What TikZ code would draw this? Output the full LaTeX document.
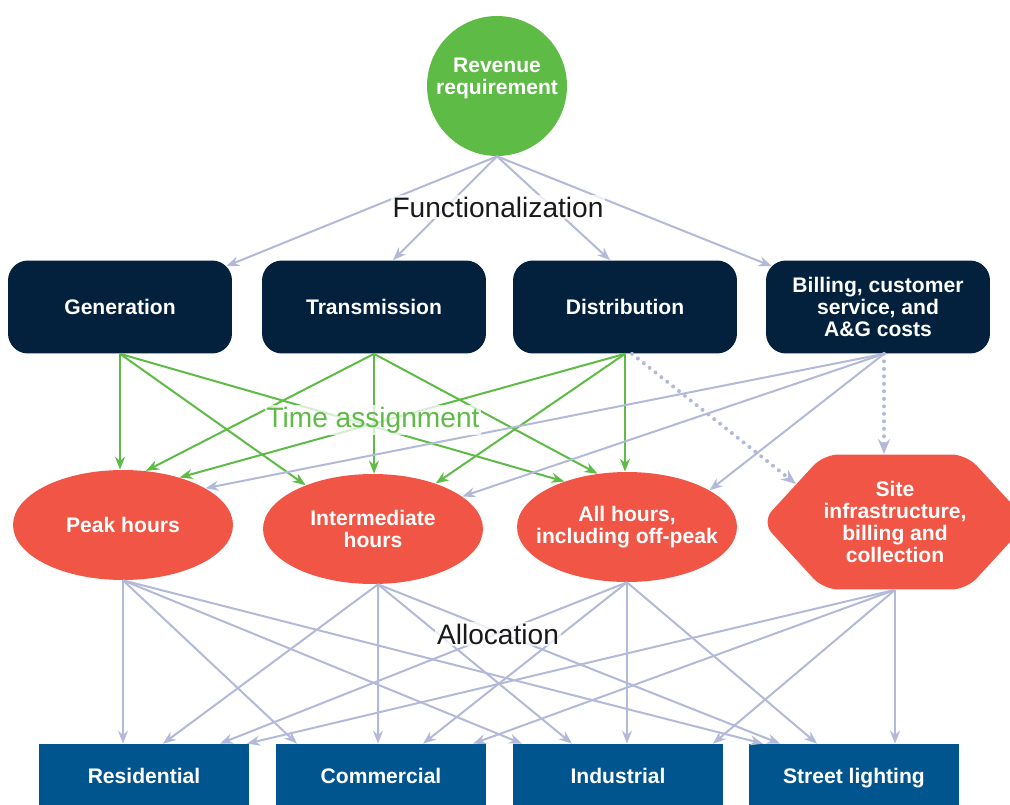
\documentclass[tikz,border=0pt]{standalone}
\usepackage{fontspec}
\setmainfont{Liberation Sans}
\usetikzlibrary{arrows.meta,shapes.geometric,shapes.symbols}

\definecolor{revgreen}{HTML}{5DBB46}
\definecolor{funcnavy}{HTML}{03203D}
\definecolor{timered}{HTML}{F05545}
\definecolor{classblue}{HTML}{00558F}
\definecolor{linkgray}{HTML}{B3B9D8}

\newcommand{\boxfont}{\fontsize{12}{12.6}\selectfont\bfseries}

\tikzset{
	func/.style={rectangle, rounded corners=0.4cm, fill=funcnavy, text=white, font=\boxfont, minimum width=4.48cm, minimum height=1.86cm, align=center},
	period/.style={ellipse, fill=timered, text=white, font=\boxfont, minimum width=4.4cm, minimum height=2.2cm, inner xsep=-0.6cm, inner ysep=-0.3cm, align=center},
	sitebox/.style={signal, signal to=east and west, signal pointer angle=95, rounded corners=0.3cm, fill=timered, text=white, font=\boxfont, minimum width=5.28cm, minimum height=2.7cm, inner sep=0pt, align=center},
	cls/.style={rectangle, fill=classblue, text=white, font=\boxfont, minimum width=4.22cm, minimum height=1.32cm, text height=0.97em, text depth=0.25em},
	greenarr/.style={draw=revgreen, line width=0.04cm, -{Stealth[length=0.26cm,width=0.2cm]}},
	grayarr/.style={draw=linkgray, line width=0.04cm, -{Stealth[length=0.26cm,width=0.2cm]}},
	dotarr/.style={draw=linkgray, line width=0.08cm, line cap=round, dash pattern=on 0pt off 0.15cm, -{Stealth[length=0.3cm,width=0.24cm]}},
	stage/.style={font=\fontsize{16}{19}\selectfont, text=black!90, fill=white, fill opacity=0.75, text opacity=1, inner sep=1pt}
}

\begin{document}
\begin{tikzpicture}[x=0.02cm, y=-0.02cm]
	\useasboundingbox (0,0) rectangle (1010,804);
	% Nodes
	\node[circle, fill=revgreen, text=white, font=\boxfont, minimum size=2.8cm, inner sep=0pt, align=center, text depth=0.38cm] (rev) at (497,86) {Revenue\\requirement};
	\node[func] (gen) at (120,307) {Generation};
	\node[func] (trans) at (374,307) {Transmission};
	\node[func] (dist) at (625,307) {Distribution};
	\node[func] (bill) at (878,307) {Billing, customer\\service, and\\A\&G costs};
	\node[period] (peak) at (123,525) {Peak hours};
	\node[period] (inter) at (373,529) {Intermediate\\hours};
	\node[period] (allh) at (627,527) {All hours,\\including off-peak};
	\node[sitebox] (site) at (895,522) {Site\\infrastructure,\\billing and\\collection};
	\node[cls] (res) at (144,777) {Residential};
	\node[cls] (com) at (381,777) {Commercial};
	\node[cls] (ind) at (618,777) {Industrial};
	\node[cls] (street) at (854,777) {Street lighting};

	% Functionalization
	\draw[grayarr] (rev.south) -- ([shift={(-0.12cm,-0.12cm)}]gen.north east);
	\draw[grayarr] (rev.south) -- ([xshift=0.38cm]trans.north);
	\draw[grayarr] (rev.south) -- ([xshift=-0.3cm]dist.north);
	\draw[grayarr] (rev.south) -- ([shift={(0.12cm,-0.12cm)}]bill.north west);

	% Time assignment
	\draw[greenarr] (gen.south) -- (gen.south |- peak.north);
	\draw[greenarr] (gen.south) -- (inter.147);
	\draw[greenarr] (gen.south) -- (allh.144);
	\draw[greenarr] (trans.south) -- (peak.67);
	\draw[greenarr] (trans.south) -- (trans.south |- inter.north);
	\draw[greenarr] (trans.south) -- (allh.119);
	\draw[greenarr] (dist.south) -- (peak.40);
	\draw[greenarr] (dist.south) -- (inter.36);
	\draw[greenarr] (dist.south) -- (dist.south |- allh.north);
	\draw[dotarr] ([xshift=0.14cm]dist.south) -- (site.159);
	\draw[grayarr] ([xshift=0.12cm]bill.south) -- (peak.24);
	\draw[grayarr] ([xshift=0.12cm]bill.south) -- (inter.20);
	\draw[grayarr] ([xshift=0.12cm]bill.south) -- (allh.24);
	\draw[dotarr] ([xshift=0.12cm]bill.south) -- ([xshift=0.12cm]bill.south |- site.north);

	% Allocation
	\draw[grayarr] (peak.south) -- (peak.south |- res.north);
	\draw[grayarr] (peak.south) -- ([xshift=-1.68cm]com.north);
	\draw[grayarr] (peak.south) -- ([xshift=-1.92cm]ind.north);
	\draw[grayarr] (peak.south) -- ([xshift=-1.82cm]street.north);
	\draw[grayarr] ([xshift=0.1cm]inter.south) -- ([xshift=0.38cm]res.north);
	\draw[grayarr] ([xshift=0.1cm]inter.south) -- ([xshift=-0.06cm]com.north);
	\draw[grayarr] ([xshift=0.1cm]inter.south) -- ([xshift=-0.92cm]ind.north);
	\draw[grayarr] ([xshift=0.1cm]inter.south) -- ([xshift=-1.48cm]street.north);
	\draw[grayarr] (allh.south) -- ([xshift=1.52cm]res.north);
	\draw[grayarr] (allh.south) -- ([xshift=0.84cm]com.north);
	\draw[grayarr] (allh.south) -- (allh.south |- ind.north);
	\draw[grayarr] (allh.south) -- ([xshift=-0.74cm]street.north);
	\draw[grayarr] (site.south) -- ([xshift=2.06cm]res.north);
	\draw[grayarr] (site.south) -- ([xshift=1.84cm]com.north);
	\draw[grayarr] (site.south) -- ([xshift=1.9cm]ind.north);
	\draw[grayarr] (site.south) -- (site.south |- street.north);

	% Stage labels
	\node[stage] (funclabel) at (498,207) {Functionalization};
	\node[stage, text=revgreen] (timelabel) at (373,420) {Time assignment};
	\node[stage] (alloclabel) at (498,634) {Allocation};
\end{tikzpicture}
\end{document}
